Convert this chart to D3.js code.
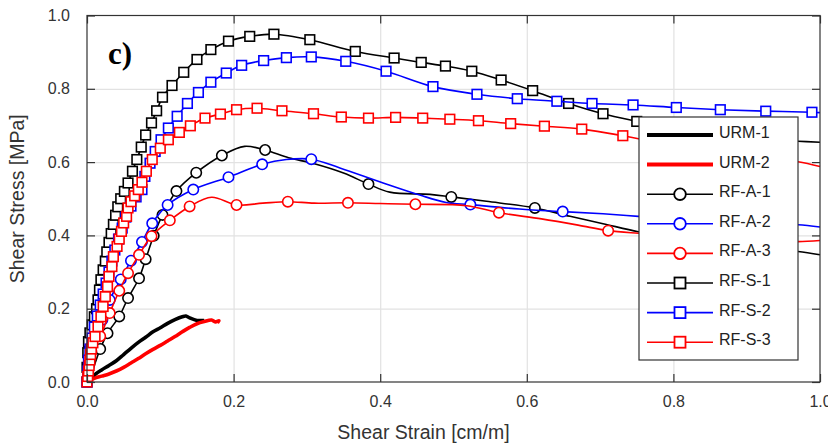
<!DOCTYPE html>
<html>
<head>
<meta charset="utf-8">
<script src="https://cdn.jsdelivr.net/npm/d3@7"></script>
<style>
  body { margin: 0; background: #fff; }
  svg { display: block; font-family: "Liberation Sans", Arial, sans-serif; }
</style>
</head>
<body>
<svg id="chart" width="828" height="447"></svg>
<script>
// tick values
const xTicks = [0, 0.2, 0.4, 0.6, 0.8, 1.0];
const yTicks = [0, 0.2, 0.4, 0.6, 0.8, 1.0];

// series data: [strain, stress] -> marker drawn, [strain, stress, 0] -> line only
const urm1 = [[0,0],[0.005,0.008],[0.012,0.022],[0.020,0.033],[0.030,0.045],[0.040,0.058],[0.050,0.075],
  [0.060,0.092],[0.070,0.108],[0.080,0.122],[0.090,0.137],[0.100,0.148],[0.110,0.160],[0.120,0.170],
  [0.130,0.178],[0.135,0.180],[0.140,0.175],[0.150,0.168],[0.160,0.168]];
const urm2 = [[0,0],[0.010,0.010],[0.020,0.016],[0.030,0.022],[0.040,0.030],[0.050,0.040],[0.060,0.052],
  [0.070,0.064],[0.080,0.077],[0.090,0.089],[0.100,0.100],[0.110,0.112],[0.120,0.124],[0.130,0.137],
  [0.140,0.149],[0.150,0.159],[0.160,0.165],[0.170,0.169],[0.175,0.164],[0.180,0.167],[0.178,0.162]];
const rfA1 = [[0,0,0],[0.008,0.035,0],[0.018,0.09],[0.028,0.133],[0.044,0.179],[0.056,0.229],[0.071,0.283],
  [0.080,0.335],[0.091,0.399],[0.103,0.456],[0.122,0.521],[0.149,0.571],[0.184,0.618],[0.215,0.643,0],
  [0.243,0.633],[0.275,0.612,0],[0.309,0.596,0],[0.350,0.570,0],[0.384,0.540],[0.413,0.518,0],
  [0.468,0.512,0],[0.497,0.505],[0.545,0.493,0],[0.611,0.475],[0.659,0.452,0],[0.704,0.432,0],
  [0.752,0.410,0],[0.80,0.395,0],[0.87,0.375,0],[0.93,0.362,0],[0.97,0.356,0],[1.0,0.347,0]];
const rfA2 = [[0,0,0],[0.002,0.04],[0.004,0.08],[0.012,0.125],[0.021,0.17],[0.031,0.224],[0.046,0.280],
  [0.060,0.331],[0.075,0.382],[0.089,0.433],[0.110,0.483],[0.145,0.525],[0.193,0.559],[0.239,0.594],
  [0.272,0.607,0],[0.306,0.608],[0.345,0.584,0],[0.404,0.543,0],[0.454,0.510,0],[0.490,0.490,0],
  [0.523,0.484],[0.590,0.472,0],[0.649,0.465],[0.704,0.459,0],[0.752,0.452,0],[0.80,0.445,0],
  [0.87,0.437,0],[0.93,0.432,0],[0.97,0.429,0],[1.0,0.423,0]];
const rfA3 = [[0,0,0],[0.006,0.083],[0.018,0.125],[0.031,0.188],[0.044,0.249],[0.056,0.297],[0.071,0.347],
  [0.088,0.398],[0.113,0.441],[0.140,0.479],[0.170,0.504,0],[0.204,0.483],[0.240,0.488,0],[0.274,0.492],
  [0.310,0.488,0],[0.356,0.489],[0.400,0.487,0],[0.448,0.485],[0.518,0.481,0],[0.562,0.462],
  [0.620,0.445,0],[0.670,0.428,0],[0.711,0.413],[0.752,0.406,0],[0.80,0.400,0],[0.87,0.392,0],
  [0.93,0.386,0],[0.97,0.383,0],[1.0,0.386,0]];
const rfS1 = [[0,0],[0,0.04],[0.001,0.08],[0.002,0.11],[0.004,0.134],[0.007,0.156],[0.010,0.178],
  [0.013,0.200],[0.015,0.224],[0.017,0.251],[0.019,0.279],[0.022,0.306],[0.025,0.330],[0.027,0.355],
  [0.030,0.381],[0.033,0.405],[0.036,0.430],[0.039,0.455],[0.042,0.478],[0.046,0.500],[0.051,0.520],
  [0.056,0.543],[0.062,0.575],[0.068,0.607],[0.074,0.641],[0.080,0.674],[0.088,0.707],[0.095,0.740],
  [0.103,0.777],[0.116,0.809],[0.132,0.845],[0.150,0.880],[0.169,0.907],[0.193,0.930],[0.222,0.943],
  [0.255,0.949],[0.304,0.934],[0.366,0.902],[0.419,0.884],[0.456,0.872],[0.489,0.862],[0.525,0.848],
  [0.565,0.824],[0.608,0.795],[0.657,0.760],[0.704,0.732],[0.750,0.711],[0.80,0.690,0],[0.87,0.675,0],
  [0.93,0.662,0],[0.97,0.657,0],[1.0,0.654,0]];
const rfS2 = [[0,0],[0.001,0.03],[0.002,0.06],[0.004,0.09],[0.007,0.12],[0.010,0.15],[0.014,0.18],
  [0.018,0.21],[0.022,0.24],[0.026,0.27],[0.030,0.30],[0.034,0.33],[0.038,0.36],[0.043,0.39],
  [0.048,0.42],[0.053,0.45],[0.060,0.48],[0.067,0.505],[0.075,0.525],[0.079,0.561],[0.086,0.597],
  [0.093,0.629],[0.101,0.661],[0.111,0.693],[0.123,0.725],[0.137,0.760],[0.152,0.790],[0.169,0.818],
  [0.190,0.843],[0.211,0.864],[0.241,0.877],[0.272,0.885],[0.306,0.887],[0.353,0.875],[0.408,0.848],
  [0.472,0.806],[0.532,0.785],[0.587,0.773],[0.641,0.766],[0.689,0.760],[0.745,0.756],[0.804,0.749],
  [0.864,0.743],[0.926,0.739],[0.989,0.736],[1.0,0.735,0]];
const rfS3 = [[0,0],[0.001,0.015],[0.002,0.03],[0.003,0.045],[0.004,0.06],[0.005,0.075],[0.006,0.09],
  [0.008,0.107],[0.011,0.124],[0.015,0.151],[0.019,0.178],[0.022,0.206],[0.025,0.233],[0.028,0.260],
  [0.030,0.288],[0.034,0.315],[0.036,0.342],[0.041,0.370],[0.044,0.390],[0.047,0.411],[0.050,0.434],
  [0.054,0.452],[0.056,0.475],[0.060,0.492],[0.065,0.508],[0.070,0.525],[0.075,0.545],[0.081,0.575],
  [0.089,0.607],[0.100,0.638],[0.111,0.661],[0.126,0.681],[0.141,0.699],[0.161,0.720],[0.182,0.731],
  [0.204,0.743],[0.232,0.747],[0.266,0.740],[0.309,0.732],[0.347,0.723],[0.384,0.720],[0.421,0.722],
  [0.458,0.720],[0.495,0.717],[0.534,0.713],[0.578,0.705],[0.624,0.698],[0.675,0.690],[0.731,0.672],
  [0.80,0.645,0],[0.87,0.625,0],[0.93,0.610,0],[0.97,0.601,0],[1.0,0.588,0]];

const series = [
  {name: "URM-1", data: urm1, color: "#000", marker: null},
  {name: "URM-2", data: urm2, color: "#f00", marker: null},
  {name: "RF-A-1", data: rfA1, color: "#000", marker: "circle"},
  {name: "RF-A-2", data: rfA2, color: "#00f", marker: "circle"},
  {name: "RF-A-3", data: rfA3, color: "#f00", marker: "circle"},
  {name: "RF-S-1", data: rfS1, color: "#000", marker: "square"},
  {name: "RF-S-2", data: rfS2, color: "#00f", marker: "square"},
  {name: "RF-S-3", data: rfS3, color: "#f00", marker: "square"}
];

const svg = d3.select("#chart");
const pLeft = 87, pRight = 820, pTop = 15.5, pBottom = 382;

const x = d3.scaleLinear().domain([0, 1]).range([pLeft, pRight]);
const y = d3.scaleLinear().domain([0, 1]).range([pBottom, pTop]);

//grid
svg.append("g")
  .attr("transform", `translate(0, ${pBottom})`)
  .call(d3.axisBottom(x).tickValues([0.2, 0.4, 0.6, 0.8]).tickSize(-(pBottom - pTop)).tickFormat(""))
  .call(g => g.select(".domain").remove())
  .selectAll(".tick line").attr("stroke", "#e2e2e2").attr("stroke-width", 1.2);
svg.append("g")
  .attr("transform", `translate(${pLeft}, 0)`)
  .call(d3.axisLeft(y).tickValues([0.2, 0.4, 0.6, 0.8]).tickSize(-(pRight - pLeft)).tickFormat(""))
  .call(g => g.select(".domain").remove())
  .selectAll(".tick line").attr("stroke", "#e2e2e2").attr("stroke-width", 1.2);

//curves
const line = d3.line()
  .x(d => x(d[0]))
  .y(d => y(d[1]))
  .curve(d3.curveCatmullRom.alpha(0.5));

const plot = svg.append("g");
series.forEach(s => {
  plot.append("path")
    .datum(s.data)
    .attr("fill", "none")
    .attr("stroke", s.color)
    .attr("stroke-width", s.marker ? 1.6 : 3.6)
    .attr("stroke-linejoin", "round")
    .attr("d", line);
  if (s.marker) {
    const pts = s.data.filter(d => d[2] !== 0);
    if (s.marker === "circle") {
      plot.append("g").selectAll("circle")
        .data(pts).join("circle")
        .attr("cx", d => x(d[0]))
        .attr("cy", d => y(d[1]))
        .attr("r", 5.2)
        .attr("fill", "#fff")
        .attr("stroke", s.color)
        .attr("stroke-width", 1.6);
    } else {
      plot.append("g").selectAll("rect")
        .data(pts).join("rect")
        .attr("x", d => x(d[0]) - 4.8)
        .attr("y", d => y(d[1]) - 4.8)
        .attr("width", 9.6)
        .attr("height", 9.6)
        .attr("fill", "#fff")
        .attr("stroke", s.color)
        .attr("stroke-width", 1.6);
    }
  }
});

//frame and ticks (inward on all sides)
svg.append("rect")
  .attr("x", pLeft).attr("y", pTop)
  .attr("width", pRight - pLeft).attr("height", pBottom - pTop)
  .attr("fill", "none").attr("stroke", "#333").attr("stroke-width", 1.2);

const tickStyle = g => {
  g.select(".domain").remove();
  g.selectAll(".tick line").attr("stroke", "#333").attr("stroke-width", 1.2);
  g.selectAll(".tick text").attr("fill", "#333").style("font-size", "16px")
    .style("font-family", "'Liberation Sans', Arial, sans-serif");
};
svg.append("g")
  .attr("transform", `translate(0, ${pBottom})`)
  .call(d3.axisBottom(x).tickValues(xTicks).tickSizeInner(-8).tickSizeOuter(0).tickPadding(14).tickFormat(d3.format(".1f")))
  .call(tickStyle);
svg.append("g")
  .attr("transform", `translate(0, ${pTop})`)
  .call(d3.axisTop(x).tickValues(xTicks).tickSizeInner(-8).tickSizeOuter(0).tickFormat(""))
  .call(tickStyle);
svg.append("g")
  .attr("transform", `translate(${pLeft}, 0)`)
  .call(d3.axisLeft(y).tickValues(yTicks).tickSizeInner(-8).tickSizeOuter(0).tickPadding(17).tickFormat(d3.format(".1f")))
  .call(tickStyle);
svg.append("g")
  .attr("transform", `translate(${pRight}, 0)`)
  .call(d3.axisRight(y).tickValues(yTicks).tickSizeInner(-8).tickSizeOuter(0).tickFormat(""))
  .call(tickStyle);

//axis titles
svg.append("text")
  .attr("x", (pLeft + pRight) / 2 - 30).attr("y", 439)
  .attr("text-anchor", "middle")
  .attr("fill", "#333")
  .style("font-size", "19.5px")
  .text("Shear Strain [cm/m]");
svg.append("text")
  .attr("transform", `translate(24, ${(pTop + pBottom) / 2}) rotate(-90)`)
  .attr("text-anchor", "middle")
  .attr("fill", "#333")
  .style("font-size", "19.5px")
  .text("Shear Stress [MPa]");

//panel label
svg.append("text")
  .attr("x", 108).attr("y", 64)
  .style("font-family", "'Liberation Serif', 'Times New Roman', serif")
  .style("font-weight", "bold")
  .style("font-size", "31px")
  .attr("fill", "#000")
  .text("c)");

//legend
const lg = svg.append("g").attr("transform", "translate(639, 117)");
lg.append("rect")
  .attr("width", 159).attr("height", 243)
  .attr("fill", "#fff").attr("stroke", "#333").attr("stroke-width", 1.2);
series.forEach((s, i) => {
  const cy = 18 + i * 29.6;
  const row = lg.append("g").attr("transform", `translate(0, ${cy})`);
  row.append("line")
    .attr("x1", 8).attr("x2", 74)
    .attr("stroke", s.color)
    .attr("stroke-width", s.marker ? 1.6 : 4);
  if (s.marker === "circle") {
    row.append("circle").attr("cx", 41).attr("r", 5.8)
      .attr("fill", "#fff").attr("stroke", s.color).attr("stroke-width", 1.8);
  } else if (s.marker === "square") {
    row.append("rect").attr("x", 35.5).attr("y", -5.5).attr("width", 11).attr("height", 11)
      .attr("fill", "#fff").attr("stroke", s.color).attr("stroke-width", 1.8);
  }
  row.append("text")
    .attr("x", 80).attr("y", 3)
    .attr("fill", "#222")
    .style("font-size", "16px")
    .text(s.name);
});
</script>
</body>
</html>
